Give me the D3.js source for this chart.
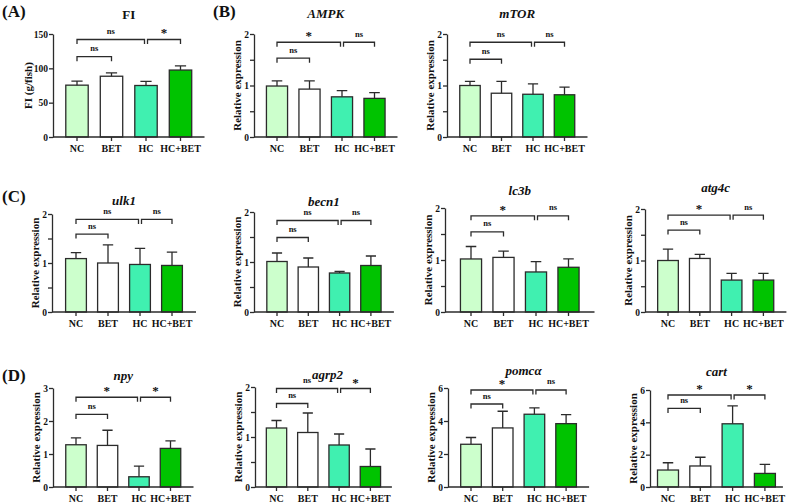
<!DOCTYPE html>
<html>
<head>
<meta charset="utf-8">
<script src="https://cdn.jsdelivr.net/npm/d3@7"></script>
<style>
  body { margin: 0; background: #fff; }
  svg { display: block; }
</style>
</head>
<body>
<div id="chart"></div>
<script>
// --- Data ---
const groups = ['NC', 'BET', 'HC', 'HC+BET'];
const fills = ['#ccffcc', '#ffffff', '#40f0b0', '#00c300'];

// mean / SD per group; sig = [NC vs BET, NC vs HC, HC vs HC+BET]; br = bracket levels [low, top]
const fiMean = [75.5, 88.5, 75, 97.5];
const fiSD = [6, 5, 6, 6];
const fiSig = ['ns', 'ns', '*'];
const fiBr = [117, 142];

const ampkMean = [0.99, 0.93, 0.78, 0.75];
const ampkSD = [0.10, 0.16, 0.12, 0.11];
const ampkSig = ['ns', '*', 'ns'];
const ampkBr = [1.53, 1.84];

const mtorMean = [1.0, 0.85, 0.83, 0.82];
const mtorSD = [0.08, 0.23, 0.20, 0.15];
const mtorSig = ['ns', 'ns', 'ns'];
const mtorBr = [1.51, 1.84];

const ulk1Mean = [1.09, 1.0, 0.97, 0.95];
const ulk1SD = [0.12, 0.37, 0.33, 0.27];
const ulk1Sig = ['ns', 'ns', 'ns'];
const ulk1Br = [1.59, 1.89];

const becn1Mean = [1.01, 0.90, 0.78, 0.93];
const becn1SD = [0.17, 0.18, 0.03, 0.19];
const becn1Sig = ['ns', 'ns', 'ns'];
const becn1Br = [1.49, 1.83];

const lc3bMean = [1.02, 1.05, 0.77, 0.86];
const lc3bSD = [0.24, 0.12, 0.20, 0.16];
const lc3bSig = ['ns', '*', 'ns'];
const lc3bBr = [1.54, 1.85];

const atg4cMean = [1.0, 1.04, 0.62, 0.62];
const atg4cSD = [0.22, 0.08, 0.13, 0.13];
const atg4cSig = ['ns', '*', 'ns'];
const atg4cBr = [1.59, 1.88];

const npyMean = [1.28, 1.26, 0.31, 1.17];
const npySD = [0.21, 0.46, 0.32, 0.23];
const npySig = ['ns', '*', '*'];
const npyBr = [2.2, 2.72];

const agrp2Mean = [1.18, 1.09, 0.84, 0.41];
const agrp2SD = [0.15, 0.39, 0.22, 0.35];
const agrp2Sig = ['ns', 'ns', '*'];
const agrp2Br = [1.67, 1.97];

const pomcaMean = [2.59, 3.58, 4.41, 3.84];
const pomcaSD = [0.41, 1.01, 0.38, 0.55];
const pomcaSig = ['ns', '*', 'ns'];
const pomcaBr = [5.03, 5.88];

const cartMean = [1.05, 1.3, 3.91, 0.84];
const cartSD = [0.45, 0.54, 1.11, 0.56];
const cartSig = ['ns', '*', '*'];
const cartBr = [4.86, 5.69];

const ticks2 = [0, 0.5, 1, 1.5, 2];
const ticks3 = [0, 1, 2, 3];
const ticks6 = [0, 2, 4, 6];
const ticks150 = [0, 50, 100, 150];

// --- Layout ---
const W = 789, H = 503;
const FONT = '"Liberation Serif", "Times New Roman", Times, serif';
const INK = '#2b2b2b';

const panels = [
  {title: 'FI', italic: false, mean: fiMean, sd: fiSD, sig: fiSig, br: fiBr, yMax: 150, ticks: ticks150, yLabel: 'FI (g/fish)', ax: 53, c0: 77, step: 34.5, top: 34, bot: 137, titleY: 19, labelOff: 25},
  {title: 'AMPK', italic: true, mean: ampkMean, sd: ampkSD, sig: ampkSig, br: ampkBr, yMax: 2, ticks: ticks2, ax: 254, c0: 277, step: 32.5, top: 34, bot: 137, titleY: 18},
  {title: 'mTOR', italic: true, mean: mtorMean, sd: mtorSD, sig: mtorSig, br: mtorBr, yMax: 2, ticks: ticks2, ax: 447, c0: 470, step: 31.5, top: 34, bot: 137, titleY: 18},
  {title: 'ulk1', italic: true, mean: ulk1Mean, sd: ulk1SD, sig: ulk1Sig, br: ulk1Br, yMax: 2, ticks: ticks2, ax: 52, c0: 76, step: 32, top: 214, bot: 312, titleY: 205},
  {title: 'becn1', italic: true, mean: becn1Mean, sd: becn1SD, sig: becn1Sig, br: becn1Br, yMax: 2, ticks: ticks2, ax: 254, c0: 277, step: 31.3, top: 212, bot: 312, titleY: 206},
  {title: 'lc3b', italic: true, mean: lc3bMean, sd: lc3bSD, sig: lc3bSig, br: lc3bBr, yMax: 2, ticks: ticks2, ax: 445, c0: 471, step: 32.5, top: 208, bot: 312, titleY: 195},
  {title: 'atg4c', italic: true, mean: atg4cMean, sd: atg4cSD, sig: atg4cSig, br: atg4cBr, yMax: 2, ticks: ticks2, ax: 645, c0: 668, step: 31.8, top: 209, bot: 312, titleY: 192},
  {title: 'npy', italic: true, mean: npyMean, sd: npySD, sig: npySig, br: npyBr, yMax: 3, ticks: ticks3, ax: 53, c0: 76, step: 31.5, top: 388, bot: 487, titleY: 380},
  {title: 'agrp2', italic: true, mean: agrp2Mean, sd: agrp2SD, sig: agrp2Sig, br: agrp2Br, yMax: 2, ticks: ticks2, ax: 255, c0: 276.5, step: 31.3, top: 387, bot: 487, titleY: 379, titleDx: 4},
  {title: 'pomcα', italic: true, mean: pomcaMean, sd: pomcaSD, sig: pomcaSig, br: pomcaBr, yMax: 6, ticks: ticks6, ax: 448, c0: 471, step: 31.7, top: 388, bot: 487, titleY: 375, titleDx: 5},
  {title: 'cart', italic: true, mean: cartMean, sd: cartSD, sig: cartSig, br: cartBr, yMax: 6, ticks: ticks6, ax: 650, c0: 668, step: 32.3, top: 390, bot: 487, titleY: 376}
];

const letters = [
  {t: '(A)', x: 2, y: 17},
  {t: '(B)', x: 213, y: 17},
  {t: '(C)', x: 2, y: 202},
  {t: '(D)', x: 2, y: 381}
];

const svg = d3.select('#chart').append('svg')
  .attr('width', W).attr('height', H)
  .style('font-family', FONT);

letters.forEach(l => {
  svg.append('text')
    .attr('x', l.x).attr('y', l.y)
    .attr('font-size', 17).attr('font-weight', 'bold')
    .attr('fill', '#111')
    .text(l.t);
});

panels.forEach(drawPanel);

function drawPanel(p) {
  const g = svg.append('g');
  const pad = 0.35;
  const x = d3.scaleBand().domain(groups)
    .range([p.c0 - p.step / 2, p.c0 + p.step * 3.5])
    .paddingInner(pad).paddingOuter(pad / 2);
  const y = d3.scaleLinear().domain([0, p.yMax]).range([p.bot, p.top]);
  const cx = d => x(d) + x.bandwidth() / 2;
  const xEnd = cx(groups[3]) + (p.c0 - p.ax);

  const rows = groups.map((k, i) => ({k, m: p.mean[i], sd: p.sd[i], fill: fills[i]}));

  // Bars
  g.selectAll('.bar').data(rows).join('rect')
    .attr('class', 'bar')
    .attr('x', d => x(d.k))
    .attr('y', d => y(d.m))
    .attr('width', x.bandwidth())
    .attr('height', d => y(0) - y(d.m))
    .attr('fill', d => d.fill)
    .attr('stroke', INK)
    .attr('stroke-width', 1.3);

  // Error bars (upper only)
  const cap = x.bandwidth() * 0.5;
  g.selectAll('.err').data(rows).join('path')
    .attr('class', 'err')
    .attr('fill', 'none')
    .attr('stroke', INK)
    .attr('stroke-width', 1.3)
    .attr('d', d => `M${cx(d.k)},${y(d.m)}V${y(d.m + d.sd)}M${cx(d.k) - cap / 2},${y(d.m + d.sd)}H${cx(d.k) + cap / 2}`);

  // Y axis
  const yAxis = g.append('g')
    .attr('transform', `translate(${p.ax},0)`)
    .call(d3.axisLeft(y).tickValues(p.ticks).tickSize(4).tickSizeOuter(0)
      .tickFormat(d => d % 1 === 0 ? d : ''));
  yAxis.select('.domain').attr('stroke', INK).attr('stroke-width', 1.3);
  yAxis.selectAll('line').attr('stroke', INK).attr('stroke-width', 1.3);
  yAxis.selectAll('text')
    .attr('font-family', FONT).attr('font-weight', 'bold').attr('font-size', 9.5)
    .attr('fill', '#111').attr('x', -5);

  // X axis
  const xAxis = g.append('g')
    .attr('transform', `translate(0,${p.bot})`)
    .call(d3.axisBottom(x).tickSize(4).tickSizeOuter(0));
  xAxis.select('.domain').remove();
  xAxis.append('line')
    .attr('x1', p.ax).attr('x2', xEnd)
    .attr('stroke', INK).attr('stroke-width', 1.3);
  xAxis.selectAll('.tick line').attr('stroke', INK).attr('stroke-width', 1.3);
  xAxis.selectAll('text')
    .attr('font-family', FONT).attr('font-weight', 'bold').attr('font-size', 10)
    .attr('fill', '#111').attr('y', 14.5).attr('dy', null);

  // Y label
  const yl = p.yLabel || 'Relative expression';
  const off = p.labelOff || 17;
  g.append('text')
    .attr('transform', `translate(${p.ax - off},${(p.top + p.bot) / 2}) rotate(-90)`)
    .attr('text-anchor', 'middle')
    .attr('dy', '0.35em')
    .attr('font-size', 11).attr('font-weight', 'bold').attr('fill', '#111')
    .text(yl);

  // Title
  g.append('text')
    .attr('x', (p.ax + xEnd) / 2 + (p.titleDx || 0)).attr('y', p.titleY)
    .attr('text-anchor', 'middle')
    .attr('font-size', 13).attr('font-weight', 'bold')
    .attr('font-style', p.italic ? 'italic' : 'normal')
    .attr('fill', '#111')
    .text(p.title);

  // Significance brackets
  const pairs = [
    {a: cx('NC'), b: cx('BET'), lvl: p.br[0], s: p.sig[0]},
    {a: cx('NC'), b: cx('HC') - 1.5, lvl: p.br[1], s: p.sig[1]},
    {a: cx('HC') + 1.5, b: cx('HC+BET'), lvl: p.br[1], s: p.sig[2]}
  ];
  g.selectAll('.brk').data(pairs).join('path')
    .attr('class', 'brk')
    .attr('fill', 'none')
    .attr('stroke', INK)
    .attr('stroke-width', 1.3)
    .attr('d', d => `M${d.a},${y(d.lvl) + 4.5}V${y(d.lvl)}H${d.b}V${y(d.lvl) + 4.5}`);
  g.selectAll('.sig').data(pairs).join('text')
    .attr('class', 'sig')
    .attr('x', d => (d.a + d.b) / 2)
    .attr('y', d => d.s === '*' ? y(d.lvl) - 2 : y(d.lvl) - 5.5)
    .attr('text-anchor', 'middle')
    .attr('font-size', d => d.s === '*' ? 13 : 8.5)
    .attr('font-weight', 'bold')
    .attr('fill', '#111')
    .text(d => d.s);
}
</script>
</body>
</html>
